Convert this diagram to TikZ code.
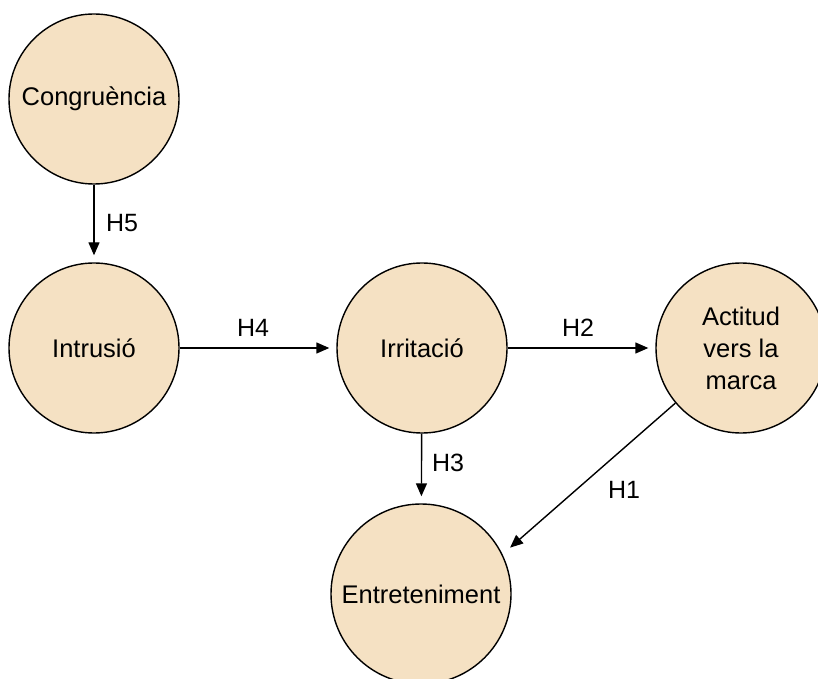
\documentclass[tikz,border=0pt]{standalone}
\usepackage{fontspec}
\setmainfont{Liberation Sans}
\usetikzlibrary{arrows.meta}
\definecolor{construct}{RGB}{245,225,195}
\begin{document}
\begin{tikzpicture}[x=1pt,y=1pt,
  construct/.style={circle, draw=black, line width=1.4pt, fill=construct,
    minimum size=170pt, inner sep=0pt, align=center,
    font=\fontsize{25.5}{32}\selectfont},
  link/.style={line width=1.4pt, -{Triangle[length=13pt,width=11pt]},
    shorten >=7pt},
  hyp/.style={font=\fontsize{25}{30}\selectfont, inner sep=0pt}]
  \useasboundingbox (0,0) rectangle (818,678);
  \node[construct] (cong) at (94,579) {Congruència};
  \node[construct] (intr) at (94,330) {Intrusió};
  \node[construct] (irri) at (422,330) {Irritació};
  \node[construct] (act) at (741,330) {Actitud\\vers la\\marca};
  \node[construct, minimum size=180pt] (ent) at (421,84) {Entreteniment};
  \draw[link] (cong) -- (intr);
  \draw[link] (intr) -- (irri);
  \draw[link] (irri) -- (act);
  \draw[link] (irri) -- (ent);
  \draw[link, shorten >=10pt] (act.220) -- (ent.26);
  \node[hyp] (h5) at (122,455) {H5};
  \node[hyp] (h4) at (253,350) {H4};
  \node[hyp] (h2) at (578,350) {H2};
  \node[hyp] (h3) at (448,215) {H3};
  \node[hyp] (h1) at (624,188) {H1};
\end{tikzpicture}
\end{document}
